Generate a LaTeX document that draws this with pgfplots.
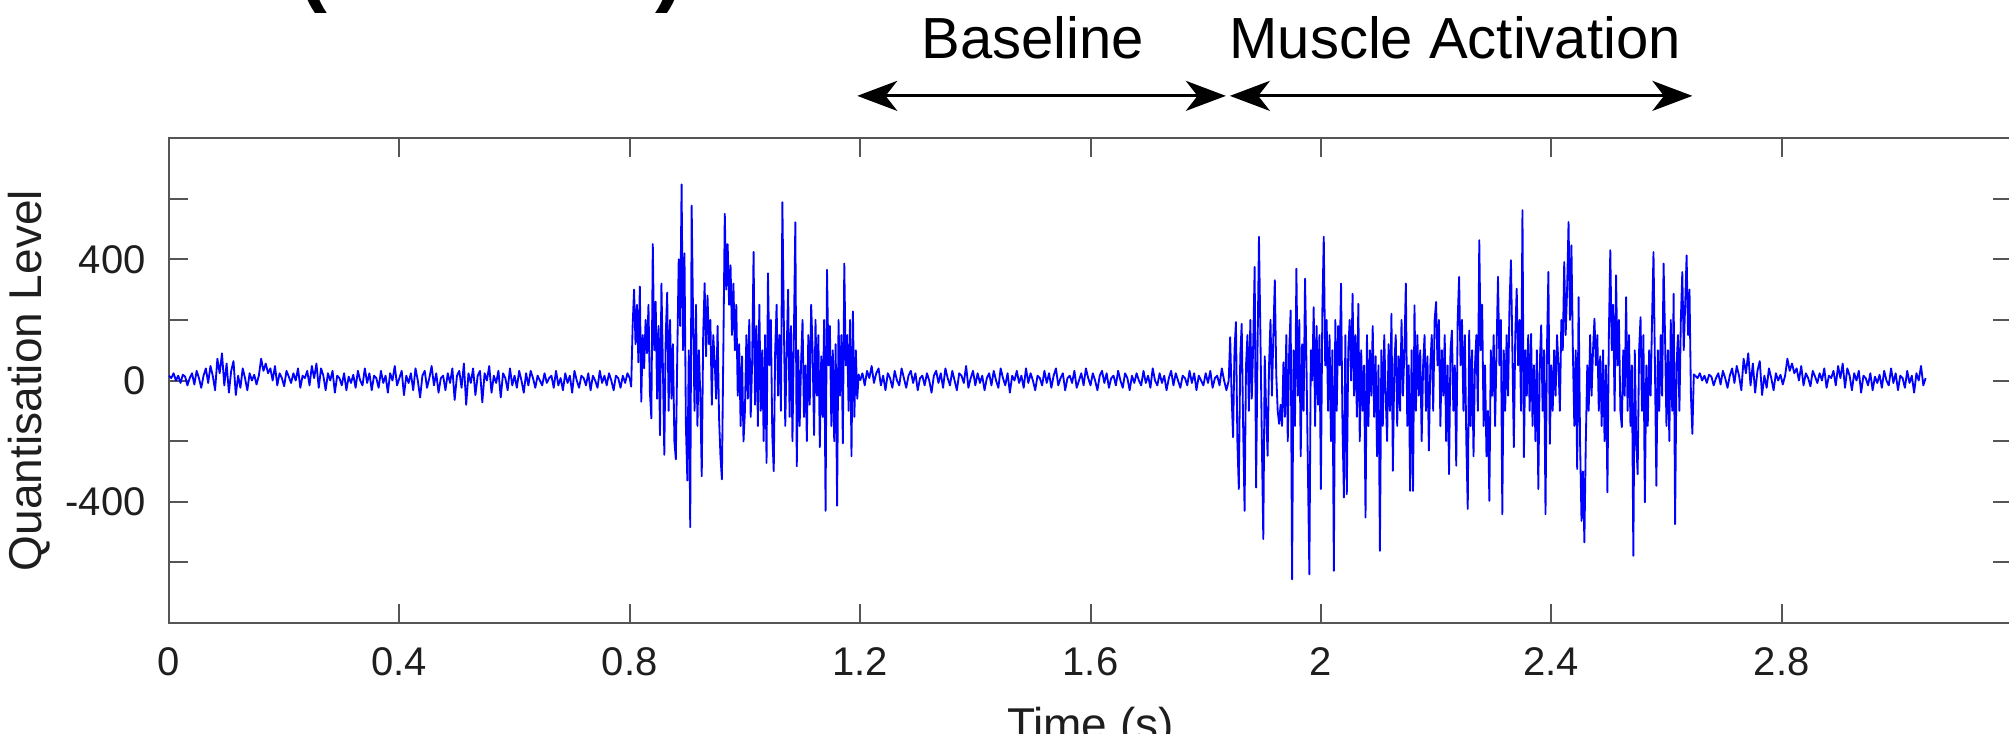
\documentclass[border=0pt]{standalone}
\usepackage{fontspec}
\setmainfont{Liberation Sans}
\usepackage{pgfplots}
\pgfplotsset{compat=1.18}
\usepackage{pgfplotstable}
\usetikzlibrary{arrows.meta}
\definecolor{sig}{RGB}{0,0,255}
\definecolor{axc}{RGB}{85,85,85}
\definecolor{txt}{RGB}{30,30,30}

% baseline noise 0 -- 0.8 s (dt 0.004)
\pgfplotstableread[row sep=\\,header=false]{
16\\8\\24\\0\\16\\-8\\19\\13\\-16\\8\\
24\\-13\\32\\8\\-24\\16\\40\\-8\\48\\16\\
-32\\72\\24\\90\\-16\\56\\-40\\32\\64\\-48\\
16\\-24\\40\\8\\-32\\24\\0\\19\\-13\\16\\
72\\32\\56\\24\\40\\0\\48\\-16\\24\\8\\
-19\\32\\13\\-8\\24\\0\\40\\-24\\16\\8\\
32\\-16\\48\\8\\56\\-24\\40\\16\\-32\\24\\
0\\32\\-40\\16\\8\\-16\\24\\-32\\13\\-8\\
19\\-24\\32\\0\\-16\\40\\-8\\24\\-32\\16\\
8\\-24\\32\\-8\\16\\-40\\24\\0\\48\\-16\\
8\\32\\-48\\16\\-8\\24\\-32\\40\\0\\-56\\
16\\32\\-24\\8\\48\\-16\\24\\-40\\8\\16\\
-32\\24\\-8\\40\\-64\\16\\32\\-24\\56\\-80\\
24\\-8\\40\\-48\\16\\32\\-72\\24\\0\\48\\
-40\\16\\-8\\32\\-56\\24\\8\\-32\\40\\-16\\
16\\-24\\32\\0\\-40\\24\\-16\\32\\8\\-24\\
16\\0\\-16\\24\\-8\\8\\16\\-24\\32\\-16\\
8\\-32\\24\\-8\\16\\-40\\32\\0\\-24\\16\\
8\\-16\\24\\-32\\16\\0\\-24\\32\\-8\\16\\
-16\\24\\0\\-32\\16\\8\\-24\\16\\-8\\24\\8\\
}\segA

% first burst 0.8 -- 1.2 s (dt 0.0025)
\pgfplotstableread[row sep=\\,header=false]{
8\\-20\\180\\300\\120\\250\\60\\310\\-70\\150\\40\\200\\90\\250\\-40\\-125\\450\\100\\260\\-60\\
180\\-180\\320\\50\\-245\\150\\290\\-100\\200\\-60\\120\\-200\\-260\\80\\400\\180\\647\\100\\420\\-150\\
-330\\100\\-484\\577\\200\\-100\\250\\-150\\100\\-50\\-316\\150\\321\\80\\280\\120\\200\\-80\\150\\60\\
-60\\180\\-120\\-250\\-326\\100\\550\\300\\450\\250\\380\\150\\320\\100\\250\\-50\\120\\-150\\80\\-201\\
-100\\150\\-60\\200\\-120\\60\\424\\-80\\180\\-150\\250\\-100\\100\\-200\\150\\-272\\354\\50\\200\\-180\\
-299\\100\\250\\-50\\150\\-100\\588\\200\\-150\\100\\300\\-120\\180\\-200\\150\\522\\-283\\100\\-150\\60\\
200\\-120\\50\\-200\\150\\-80\\250\\100\\-180\\200\\-50\\150\\-220\\80\\-120\\200\\-430\\365\\50\\180\\
-150\\100\\-200\\120\\-413\\200\\-50\\150\\-207\\386\\50\\150\\-100\\200\\-250\\228\\-120\\100\\-60\\20\\0\\
}\burstA

% baseline noise 1.2 -- 1.84 s (dt 0.004)
\pgfplotstableread[row sep=\\,header=false]{
0\\24\\-16\\32\\8\\48\\-8\\24\\40\\-16\\
16\\-32\\24\\8\\-24\\32\\0\\-16\\40\\8\\
-24\\16\\32\\-8\\24\\-32\\8\\16\\-16\\24\\
0\\-40\\16\\32\\-8\\24\\-24\\40\\8\\-16\\
32\\0\\-32\\24\\16\\-8\\48\\-24\\8\\32\\
-16\\24\\-8\\16\\-32\\8\\24\\-16\\32\\0\\
-24\\40\\8\\-16\\24\\-40\\16\\0\\32\\-8\\
16\\-24\\40\\-8\\24\\0\\-32\\16\\8\\-16\\
32\\-8\\24\\-24\\16\\40\\-16\\8\\24\\-32\\
8\\16\\-8\\32\\-24\\0\\24\\-16\\40\\8\\
-16\\24\\0\\-32\\16\\32\\-8\\24\\-24\\8\\
16\\-16\\32\\0\\-24\\24\\8\\-32\\16\\-8\\
24\\0\\-16\\32\\-8\\16\\-24\\40\\0\\-16\\
24\\-8\\16\\-32\\8\\32\\-16\\24\\0\\-24\\
16\\8\\-16\\32\\-8\\24\\-32\\16\\0\\-16\\
24\\-8\\32\\-24\\8\\16\\-16\\40\\0\\-32\\0\\
}\segB

% muscle activation 1.84 -- 2.65 s (dt 0.0025)
\pgfplotstableread[row sep=\\,header=false]{
0\\143\\-50\\-187\\100\\193\\-200\\-358\\80\\187\\-150\\-430\\50\\150\\-100\\200\\-60\\120\\375\\-353\\
100\\474\\150\\-200\\-523\\80\\-100\\-248\\50\\200\\-50\\150\\331\\20\\-100\\-143\\-80\\-150\\60\\-120\\
150\\-200\\100\\231\\-656\\100\\-150\\369\\-50\\200\\-250\\120\\-100\\336\\50\\-300\\-639\\100\\0\\242\\
-150\\180\\-80\\150\\-358\\226\\474\\50\\200\\-100\\150\\-200\\100\\-628\\200\\-100\\180\\50\\320\\-150\\
-386\\150\\-375\\100\\200\\0\\286\\-50\\150\\-120\\253\\-200\\100\\-100\\50\\-452\\150\\-150\\100\\-50\\
180\\-120\\80\\-250\\50\\-562\\100\\-150\\150\\-50\\-200\\120\\-100\\220\\-298\\50\\150\\-150\\80\\-100\\
200\\-50\\100\\320\\-150\\50\\-364\\100\\-364\\248\\-100\\150\\-50\\100\\-200\\50\\150\\-100\\80\\-231\\
50\\150\\-100\\200\\259\\50\\200\\-150\\100\\-50\\150\\-200\\50\\-309\\100\\165\\-100\\50\\-281\\200\\
342\\50\\200\\-100\\150\\-200\\-424\\165\\-150\\100\\-250\\50\\150\\-100\\463\\100\\250\\-150\\50\\-250\\
-100\\-397\\100\\-50\\150\\-150\\100\\342\\50\\200\\-441\\100\\-100\\150\\-50\\250\\397\\100\\-220\\150\\
303\\50\\200\\-100\\562\\-253\\100\\-50\\150\\-100\\154\\-150\\50\\-200\\100\\-358\\50\\182\\-100\\100\\
-441\\100\\358\\-209\\50\\-100\\100\\-50\\150\\50\\-100\\200\\100\\391\\150\\300\\523\\200\\446\\100\\
-150\\100\\-292\\275\\-200\\-463\\-300\\-534\\-200\\50\\-100\\150\\-50\\100\\204\\50\\150\\-100\\80\\-150\\
100\\-200\\50\\-369\\150\\430\\100\\250\\-100\\347\\50\\200\\-100\\-154\\100\\-50\\275\\-100\\150\\-150\\
50\\-578\\100\\-200\\-309\\100\\209\\-100\\150\\-402\\50\\-150\\100\\-50\\200\\424\\50\\-347\\100\\-100\\
150\\-50\\386\\150\\-150\\100\\-200\\200\\-100\\286\\-474\\50\\150\\-100\\200\\358\\100\\250\\413\\150\\300\\-50\\-176\\20\\16\\
}\burstB

% baseline noise 2.65 -- 3.05 s (dt 0.004)
\pgfplotstableread[row sep=\\,header=false]{
16\\8\\24\\0\\16\\-8\\19\\13\\-16\\8\\
24\\-13\\32\\8\\-24\\16\\40\\-8\\48\\16\\
-32\\72\\24\\90\\-16\\56\\-40\\32\\64\\-48\\
16\\-24\\40\\8\\-32\\24\\0\\19\\-13\\16\\
72\\32\\56\\24\\40\\0\\48\\-16\\24\\8\\
-19\\32\\13\\-8\\24\\0\\40\\-24\\16\\8\\
32\\-16\\48\\8\\56\\-24\\40\\16\\-32\\24\\
0\\32\\-40\\16\\8\\-16\\24\\-32\\13\\-8\\
19\\-24\\32\\0\\-16\\40\\-8\\24\\-32\\16\\
8\\-24\\32\\-8\\16\\-40\\24\\0\\48\\-16\\
8\\
}\segC

\begin{document}
\begin{tikzpicture}
\begin{axis}[
  scale only axis,
  width=552.9pt, height=145.5pt,
  xmin=0, xmax=3.2, ymin=-800, ymax=800,
  clip=false,
  axis line style={draw=axc, line width=0.6pt},
  xtick={0,0.4,0.8,1.2,1.6,2,2.4,2.8},
  xticklabels={0,0.4,0.8,1.2,1.6,2,2.4,2.8},
  ytick={-600,-400,-200,0,200,400,600},
  yticklabels={,-400,,0,,400,},
  tick align=inside, tick pos=both,
  major tick length=5.7pt,
  every tick/.style={draw=axc, line width=0.6pt},
  ticklabel style={font=\fontsize{12}{14}\selectfont, text=txt},
  xticklabel style={yshift=-3.7pt},
  yticklabel style={xshift=-3.5pt},
  xlabel={Time (s)},
  ylabel={Quantisation Level},
  label style={font=\fontsize{13.8}{16}\selectfont, text=txt},
  xlabel style={at={(axis description cs:0.5,-0.2186)}, anchor=center},
  ylabel style={at={(axis description cs:-0.076,0.5)}, anchor=center},
]
\addplot[sig, line width=0.55pt, line join=round, no markers] table[x expr=\coordindex*0.004, y index=0] {\segA};
\addplot[sig, line width=0.55pt, line join=round, no markers] table[x expr=0.8+\coordindex*0.0025, y index=0] {\burstA};
\addplot[sig, line width=0.55pt, line join=round, no markers] table[x expr=1.2+\coordindex*0.004, y index=0] {\segB};
\addplot[sig, line width=0.55pt, line join=round, no markers] table[x expr=1.84+\coordindex*0.0025, y index=0] {\burstB};
\addplot[sig, line width=0.55pt, line join=round, no markers] table[x expr=2.65+\coordindex*0.004, y index=0] {\segC};

\draw[black, line width=0.9pt, {Stealth[length=12pt,width=9pt,inset=3.5pt]}-{Stealth[length=12pt,width=9pt,inset=3.5pt]}]
  (axis cs:1.195,939) -- (axis cs:1.835,939);
\draw[black, line width=0.9pt, {Stealth[length=12pt,width=9pt,inset=3.5pt]}-{Stealth[length=12pt,width=9pt,inset=3.5pt]}]
  (axis cs:1.842,939) -- (axis cs:2.645,939);
\node[text=black] at (axis cs:1.50,1130) {\fontsize{17.4}{20}\selectfont Baseline};
\node[text=black] at (axis cs:2.233,1130) {\fontsize{17.4}{20}\selectfont Muscle Activation};
\node[anchor=south, inner sep=0pt] at (axis cs:0.25,1207) {\fontsize{26}{30}\selectfont\bfseries (};
\node[anchor=south, inner sep=0pt] at (axis cs:0.87,1207) {\fontsize{26}{30}\selectfont\bfseries )};

\coordinate (sw) at (rel axis cs:0,0);
\coordinate (ne) at (rel axis cs:1,1);
\end{axis}
\pgfresetboundingbox
\path[use as bounding box] ([xshift=-50.7pt,yshift=-33pt]sw) rectangle ([xshift=-0.9pt,yshift=41.4pt]ne);
\end{tikzpicture}
\end{document}
